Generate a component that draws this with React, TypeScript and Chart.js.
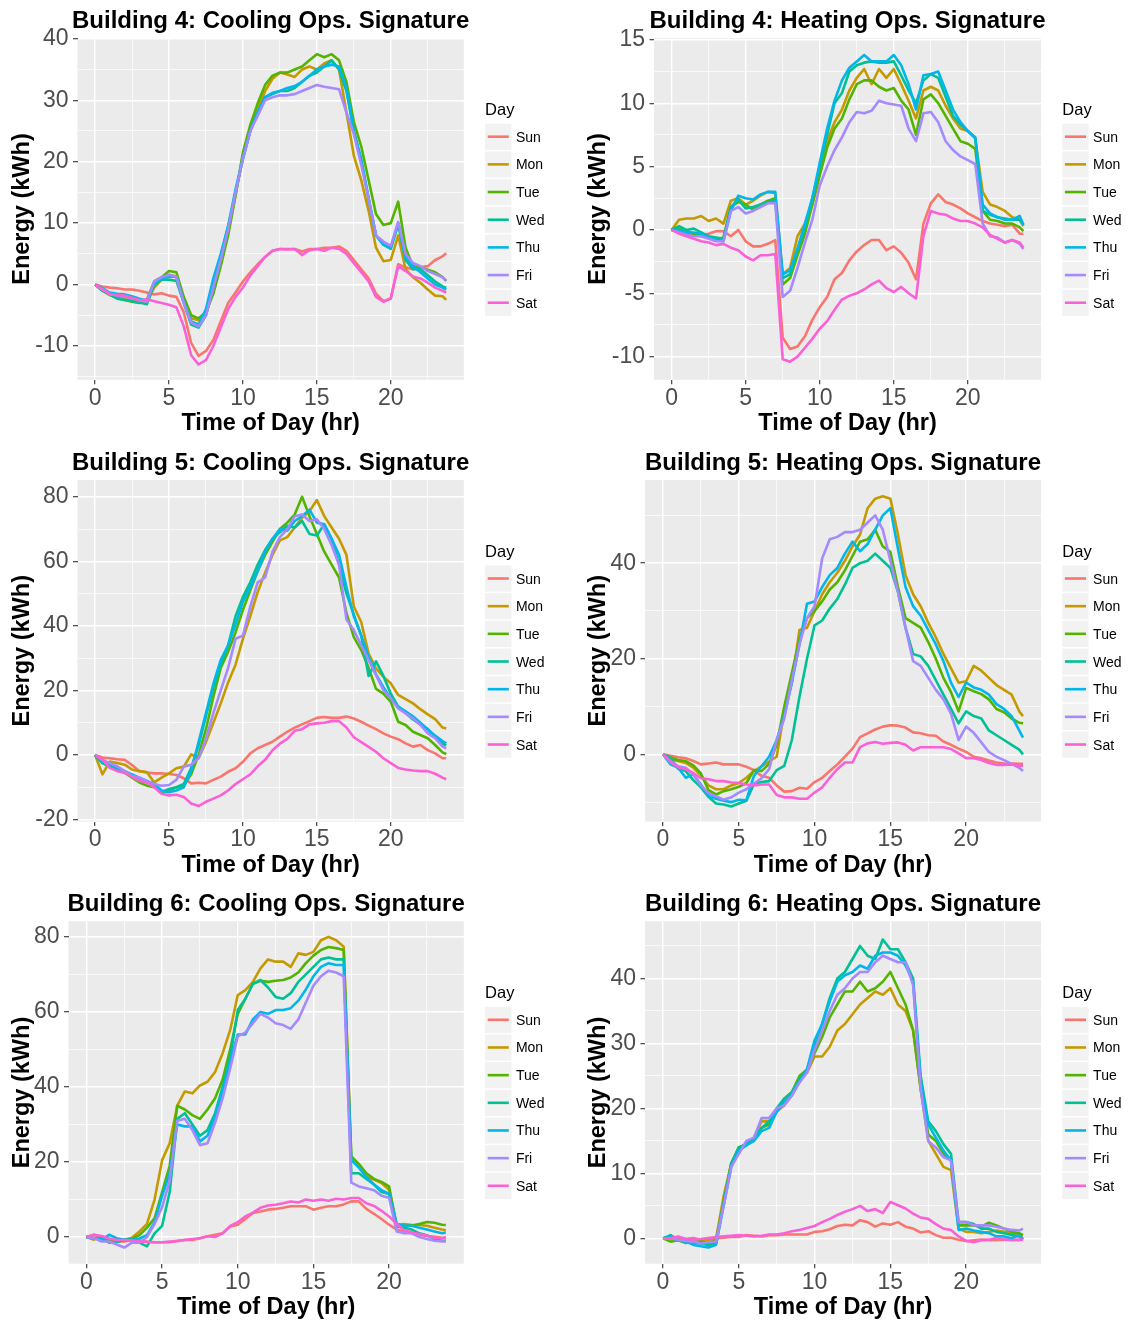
import React, { useEffect, useRef } from "react";
import { Chart, registerables } from "chart.js";

Chart.register(...registerables);

const FONT = "'Liberation Sans', Arial, Helvetica, sans-serif";

// ---------------- data ----------------
const TIME_HR = [0, 0.5, 1, 1.5, 2, 2.5, 3, 3.5, 4, 4.5, 5, 5.5, 6, 6.5, 7, 7.5, 8, 8.5, 9, 9.5, 10, 10.5, 11, 11.5, 12, 12.5, 13, 13.5, 14, 14.5, 15, 15.5, 16, 16.5, 17, 17.5, 18, 18.5, 19, 19.5, 20, 20.5, 21, 21.5, 22, 22.5, 23, 23.5, 23.75];
const DAYS = ["Sun", "Mon", "Tue", "Wed", "Thu", "Fri", "Sat"];
const DAY_COLORS = ["#F8766D", "#C49A00", "#53B400", "#00C094", "#00B6EB", "#A58AFF", "#FB61D7"];
const X_MAJOR = [0, 5, 10, 15, 20];
const X_MINOR = [2.5, 7.5, 12.5, 17.5, 22.5];

// Building 4: Cooling
const B4C_SUN = [0, -0.3, -0.5, -0.6, -0.8, -0.8, -1.0, -1.3, -1.6, -1.4, -1.8, -2.0, -4.5, -9.5, -11.6, -10.8, -9.0, -6.0, -3.0, -1.3, 0.5, 2.0, 3.3, 4.5, 5.5, 5.8, 5.8, 5.8, 5.4, 5.8, 5.8, 6.0, 6.0, 6.2, 5.5, 4.0, 2.5, 1.0, -1.5, -2.7, -2.3, 3.3, 2.8, 2.5, 2.8, 3.0, 4.0, 4.6, 5.1];
const B4C_MON = [0, -0.9, -1.5, -1.9, -2.2, -2.6, -2.8, -2.8, -0.5, 0.8, 1.6, 1.3, -2.5, -5.5, -5.8, -4.5, -1.0, 3.5, 8.5, 14.5, 21.0, 25.5, 28.5, 31.5, 33.5, 34.5, 34.2, 33.8, 35.0, 35.5, 35.0, 36.0, 36.5, 35.0, 28.0, 21.0, 17.0, 12.0, 6.0, 3.8, 4.0, 8.0, 2.5, 1.2, 0.3, -0.8, -1.8, -1.9, -2.5];
const B4C_TUE = [0, -1.0, -1.7, -2.2, -2.5, -2.8, -3.0, -2.5, 0.5, 1.2, 2.2, 2.0, -2.0, -5.0, -5.5, -4.5, -1.5, 3.0, 8.0, 14.5, 21.5, 26.0, 29.5, 32.5, 34.0, 34.5, 34.5, 35.0, 35.5, 36.5, 37.5, 37.0, 37.5, 36.5, 33.0, 26.5, 22.5, 17.0, 11.5, 9.7, 10.0, 13.5, 6.0, 3.0, 2.8, 2.4, 2.0, 1.2, 0.6];
const B4C_WED = [0, -1.0, -1.6, -2.3, -2.5, -2.7, -2.9, -3.2, 0.0, 0.8, 0.8, 0.6, -3.0, -6.5, -7.0, -5.0, -0.5, 4.5, 9.5, 15.0, 20.5, 25.0, 28.0, 30.5, 31.0, 31.5, 31.5, 32.0, 33.0, 34.0, 34.5, 35.5, 36.5, 35.0, 31.5, 25.0, 20.0, 14.0, 8.0, 6.5, 5.8, 9.8, 4.0, 2.5, 2.5, 1.5, 0.5, -0.3, -0.5];
const B4C_THU = [0, -0.6, -1.3, -1.5, -1.6, -1.9, -2.3, -2.6, 0.2, 1.0, 1.3, 1.3, -2.8, -6.0, -6.5, -4.0, 1.0, 5.0, 9.5, 15.5, 20.5, 25.0, 28.0, 30.5, 31.2, 31.5, 32.0, 32.3, 33.0, 34.0, 35.0, 35.5, 35.8, 35.5, 32.0, 25.0, 20.5, 14.0, 8.0, 6.5, 6.0, 10.0, 4.5, 3.0, 2.0, 1.0, 0.0, -0.5, -0.8];
const B4C_FRI = [0, -0.8, -1.5, -1.8, -2.0, -2.2, -2.6, -2.8, 0.5, 1.2, 1.6, 1.3, -3.0, -6.2, -6.8, -5.0, -0.5, 4.0, 9.0, 15.0, 20.5, 25.0, 27.5, 30.0, 30.5, 30.8, 30.8, 31.0, 31.5, 32.0, 32.5, 32.2, 32.0, 31.8, 28.0, 24.5, 19.5, 14.0, 8.0, 7.0, 6.3, 10.2, 5.0, 3.5, 3.0, 2.2, 1.7, 1.2, 0.6];
const B4C_SAT = [0, -0.8, -1.6, -1.7, -1.8, -2.2, -2.6, -2.4, -2.7, -3.0, -3.3, -3.7, -6.8, -11.5, -13.0, -12.3, -10.0, -7.0, -4.0, -2.0, -0.5, 1.5, 3.0, 4.5, 5.5, 5.8, 5.7, 5.8, 4.8, 5.6, 5.8, 5.5, 6.0, 5.8, 5.0, 3.5, 2.0, 0.5, -2.0, -2.8, -2.2, 3.0, 2.2, 1.3, 1.0, 0.3, -0.5, -1.0, -1.3];

// Building 4: Heating
const B4H_SUN = [0, -0.1, -0.3, -0.3, -0.4, -0.3, -0.1, -0.1, -0.5, 0.0, -0.9, -1.3, -1.3, -1.1, -0.8, -8.5, -9.4, -9.2, -8.4, -7.1, -6.1, -5.3, -3.9, -3.4, -2.4, -1.7, -1.2, -0.8, -0.8, -1.6, -1.3, -1.8, -2.6, -3.9, 0.5, 2.1, 2.8, 2.2, 2.0, 1.7, 1.3, 1.0, 0.7, 0.5, 0.4, 0.3, 0.4, -0.3, -0.3];
const B4H_MON = [0, 0.8, 0.9, 0.9, 1.1, 0.7, 0.9, 0.5, 2.3, 2.5, 2.0, 2.3, 2.7, 3.0, 2.9, -3.5, -3.0, -0.5, 0.5, 2.0, 4.5, 7.0, 8.5, 9.5, 11.0, 12.0, 12.7, 11.5, 12.7, 12.0, 12.7, 11.5, 10.2, 8.8, 11.0, 11.3, 11.0, 9.8, 8.8, 8.0, 7.8, 7.2, 3.0, 2.0, 1.8, 1.5, 1.0, 0.8, 0.3];
const B4H_TUE = [0, 0.1, -0.1, -0.3, -0.5, -0.6, -0.8, -0.6, 1.8, 2.2, 2.0, 1.6, 2.0, 2.3, 2.5, -4.3, -3.8, -2.0, -0.3, 2.0, 4.3, 6.5, 8.0, 8.8, 10.3, 11.5, 11.8, 11.8, 11.3, 11.0, 11.2, 10.2, 9.5, 7.5, 10.3, 10.7, 10.0, 9.0, 8.0, 7.0, 6.8, 6.4, 1.5, 0.8, 0.7, 0.5, 0.5, 0.2, -0.1];
const B4H_WED = [0, 0.3, 0.0, 0.1, -0.2, -0.5, -0.6, -0.7, 1.8, 2.4, 1.7, 1.8, 2.0, 2.2, 2.3, -3.8, -3.5, -1.5, 0.2, 2.5, 5.0, 7.5, 10.0, 10.8, 12.5, 13.0, 13.2, 13.3, 13.2, 13.2, 13.3, 12.2, 11.0, 10.0, 11.8, 12.3, 12.0, 10.5, 9.0, 8.3, 7.8, 7.3, 1.5, 1.2, 1.0, 0.9, 0.8, 0.8, 0.4];
const B4H_THU = [0, 0.0, -0.2, -0.2, -0.3, -0.6, -0.8, -0.9, 1.5, 2.7, 2.5, 2.4, 2.8, 3.0, 3.0, -3.5, -3.2, -1.5, 0.5, 2.5, 5.3, 8.0, 10.2, 11.8, 12.8, 13.3, 13.8, 13.3, 13.3, 13.3, 13.8, 13.0, 11.5, 9.5, 12.2, 12.3, 12.5, 11.0, 9.5, 8.5, 7.8, 7.3, 2.0, 1.3, 1.0, 0.8, 0.8, 1.1, 0.4];
const B4H_FRI = [0, -0.2, -0.4, -0.5, -0.5, -0.7, -0.9, -0.9, 1.5, 1.8, 1.3, 1.5, 1.8, 2.1, 2.1, -5.3, -4.8, -3.0, -1.0, 0.8, 3.5, 5.0, 6.3, 7.3, 8.5, 9.3, 9.2, 9.4, 10.2, 10.0, 9.9, 9.8, 8.0, 7.0, 9.2, 9.3, 8.5, 7.0, 6.3, 5.8, 5.5, 5.2, 0.5, -0.5, -0.6, -1.0, -0.8, -1.1, -1.5];
const B4H_SAT = [0, -0.3, -0.5, -0.7, -0.9, -1.0, -1.2, -1.1, -1.4, -1.6, -2.1, -2.4, -2.0, -2.0, -1.9, -10.2, -10.4, -10.0, -9.3, -8.6, -7.8, -7.2, -6.3, -5.5, -5.2, -5.0, -4.7, -4.3, -4.0, -4.6, -4.9, -4.5, -5.0, -5.4, -0.5, 1.5, 1.3, 1.2, 0.9, 0.7, 0.7, 0.5, 0.2, -0.4, -0.7, -1.0, -0.8, -1.0, -1.4];

// Building 5: Cooling
const B5C_SUN = [0, -0.8, -1.0, -1.3, -1.5, -3.1, -5.0, -5.4, -5.7, -5.7, -5.9, -6.2, -7.2, -8.8, -8.6, -8.8, -7.7, -6.7, -5.2, -4.1, -2.1, 0.5, 2.1, 3.1, 4.1, 5.7, 7.2, 8.5, 9.5, 10.5, 11.5, 11.8, 11.5, 11.5, 11.9, 11.3, 10.3, 9.1, 8.0, 6.7, 5.7, 4.9, 3.6, 2.6, 3.1, 1.5, 0.5, -1.0, -1.0];
const B5C_MON = [0, -6.0, -2.0, -2.5, -3.0, -4.5, -5.0, -5.3, -8.5, -7.0, -5.7, -4.1, -3.6, 0.2, -1.0, 4.0, 10.0, 16.0, 22.5, 28.0, 36.0, 43.0, 50.5, 56.5, 62.0, 66.5, 67.5, 70.5, 73.5, 75.5, 79.0, 74.0, 70.5, 67.0, 62.0, 46.0, 41.2, 31.4, 26.8, 24.2, 22.2, 18.6, 17.3, 16.0, 14.2, 12.6, 11.1, 8.5, 8.2];
const B5C_TUE = [0, -2.5, -3.5, -4.5, -5.5, -7.0, -8.5, -9.5, -10.0, -11.5, -11.0, -10.0, -9.5, -6.0, 0.0, 8.0, 18.0, 27.0, 32.0, 38.0, 45.0, 51.0, 57.0, 62.0, 66.0, 70.0, 72.0, 74.5, 80.0, 74.0, 68.5, 63.0, 59.0, 55.0, 44.0, 36.5, 32.5, 27.0, 20.5, 19.0, 16.5, 10.3, 9.3, 7.2, 6.2, 5.2, 3.1, 0.8, 0.3];
const B5C_WED = [0, -2.5, -3.5, -4.5, -5.5, -6.5, -7.5, -8.5, -9.5, -11.5, -10.5, -10.0, -9.0, -4.0, 3.0, 12.0, 21.0, 28.0, 34.0, 43.0, 49.0, 53.5, 59.0, 63.5, 67.0, 69.0, 71.0, 70.5, 72.5, 68.5, 68.0, 71.5, 67.0, 59.0, 50.0, 43.5, 37.0, 24.5, 29.0, 24.5, 19.0, 15.0, 13.0, 11.0, 9.5, 8.0, 5.5, 3.5, 3.0];
const B5C_THU = [0, -2.0, -3.0, -4.0, -5.0, -6.0, -7.0, -8.0, -9.0, -11.0, -11.5, -11.0, -10.0, -5.0, 4.0, 13.0, 22.0, 29.5, 34.0, 40.5, 47.5, 52.0, 57.0, 63.0, 67.0, 70.0, 69.5, 72.5, 74.0, 76.0, 72.0, 71.5, 67.0, 62.0, 52.0, 43.0, 37.0, 30.5, 25.0, 21.0, 17.5, 15.0, 13.5, 12.0, 10.0, 8.0, 6.0, 4.3, 3.6];
const B5C_FRI = [0, -1.5, -2.5, -3.5, -5.0, -6.5, -7.0, -8.0, -9.0, -9.5, -9.3, -7.7, -3.6, -3.0, -1.0, 5.0, 13.0, 20.0, 27.0, 36.0, 37.0, 46.0, 53.5, 55.0, 63.0, 67.5, 70.0, 74.0, 74.5, 72.5, 73.0, 70.0, 65.0, 59.0, 42.0, 38.7, 34.0, 29.4, 24.7, 20.1, 17.5, 14.4, 12.9, 11.3, 9.3, 6.7, 5.2, 2.6, 2.1];
const B5C_SAT = [0, -1.5, -4.0, -5.0, -5.5, -6.7, -8.0, -8.5, -10.0, -12.0, -12.5, -12.3, -13.0, -15.0, -15.8, -14.5, -13.5, -12.5, -11.0, -9.0, -7.5, -6.0, -3.5, -1.5, 1.5, 3.5, 5.0, 7.5, 8.0, 9.5, 9.8, 10.0, 10.5, 10.5, 8.5, 5.5, 4.0, 2.5, 1.0, -1.0, -2.5, -4.0, -4.5, -4.8, -5.0, -5.0, -5.8, -7.0, -7.5];

// Building 5: Heating
const B5H_SUN = [0, -0.3, -0.6, -0.8, -1.4, -2.1, -1.9, -1.7, -2.1, -2.1, -2.1, -2.6, -3.3, -4.5, -4.9, -6.5, -7.8, -7.7, -7.0, -7.2, -5.8, -4.9, -3.5, -2.1, -0.5, 1.2, 3.6, 4.4, 5.2, 5.8, 6.1, 6.0, 5.6, 4.6, 4.4, 4.0, 3.9, 2.7, 2.0, 1.2, 0.5, -0.5, -0.8, -1.3, -1.7, -1.9, -1.9, -2.0, -2.0];
const B5H_MON = [0, -1.0, -1.4, -1.8, -2.8, -4.4, -6.5, -7.3, -7.3, -6.5, -6.0, -4.9, -3.5, -2.5, -1.5, -0.5, 9.0, 15.0, 26.0, 26.5, 30.0, 33.5, 36.0, 38.0, 40.5, 43.5, 46.0, 51.5, 53.5, 54.0, 53.5, 46.0, 37.5, 33.5, 31.0, 27.5, 24.5, 21.0, 18.0, 15.0, 15.3, 18.5, 17.5, 16.0, 14.5, 13.5, 12.5, 9.0, 8.0];
const B5H_TUE = [0, -0.7, -1.2, -1.4, -2.3, -4.0, -7.5, -8.4, -7.7, -7.3, -6.8, -6.0, -3.3, -3.5, -2.0, 2.0, 10.0, 17.0, 24.0, 28.5, 30.0, 32.0, 34.5, 36.0, 38.5, 41.5, 44.5, 45.0, 47.0, 43.5, 42.4, 35.0, 28.5, 27.5, 26.5, 23.5, 20.0, 16.0, 13.0, 9.0, 13.9, 13.2, 12.6, 11.5, 9.5, 8.8, 7.5, 6.6, 6.5];
const B5H_WED = [0, -0.7, -3.0, -3.5, -5.4, -6.9, -8.9, -10.3, -10.5, -10.9, -10.3, -9.7, -6.2, -5.8, -5.6, -3.3, -2.4, 3.0, 12.0, 20.0, 27.0, 28.0, 30.5, 32.5, 35.5, 39.0, 40.0, 40.5, 42.0, 40.5, 39.0, 34.0, 26.5, 21.0, 20.5, 18.5, 15.5, 12.5, 9.5, 6.5, 9.0, 8.0, 7.5, 5.0, 4.0, 3.0, 2.0, 1.0, 0.0];
const B5H_THU = [0, -2.1, -2.8, -4.9, -4.2, -6.3, -8.7, -9.3, -9.7, -10.0, -9.5, -9.6, -4.5, -2.5, -0.5, 3.0, 8.0, 15.0, 23.0, 31.5, 32.0, 35.0, 37.5, 39.0, 42.0, 44.5, 42.5, 44.0, 47.0, 50.0, 51.5, 43.0, 35.0, 31.0, 29.0, 26.0, 23.0, 19.5, 15.0, 12.0, 15.0, 14.0, 13.5, 12.5, 10.5, 9.5, 8.0, 5.0, 3.5];
const B5H_FRI = [0, -1.4, -2.5, -2.8, -4.2, -6.5, -8.1, -8.8, -9.5, -9.0, -8.0, -7.3, -6.1, -5.0, -3.1, 3.0, 7.5, 15.5, 23.0, 28.5, 31.0, 41.0, 45.0, 45.5, 46.5, 46.5, 47.0, 48.5, 50.0, 47.0, 40.5, 34.0, 26.5, 19.5, 18.5, 16.0, 13.5, 11.5, 8.5, 3.0, 5.8, 4.5, 2.5, 0.5, -0.5, -1.2, -2.0, -2.8, -3.5];
const B5H_SAT = [0, -1.7, -2.7, -3.1, -3.9, -5.0, -5.2, -5.6, -5.6, -5.9, -6.0, -6.3, -6.5, -6.3, -6.3, -8.5, -9.0, -9.0, -9.3, -9.3, -8.0, -6.9, -4.9, -3.1, -1.7, -1.7, 1.5, 2.3, 2.6, 2.2, 2.4, 2.5, 2.0, 0.8, 1.5, 1.5, 1.5, 1.5, 1.1, 0.2, -0.8, -0.8, -1.2, -1.8, -2.2, -2.2, -2.1, -2.4, -2.4];

// Building 6: Cooling
const B6C_SUN = [0, 0.6, -0.3, -0.7, -1.2, -1.2, -0.8, -0.9, -1.2, -1.4, -1.4, -1.4, -1.0, -0.8, -0.8, -0.3, 0.2, 0.6, 1.0, 2.8, 3.3, 4.8, 6.4, 6.8, 7.3, 7.5, 7.8, 8.2, 8.2, 8.2, 7.3, 7.8, 8.2, 8.2, 8.7, 9.5, 9.5, 7.5, 6.2, 4.8, 3.3, 2.0, 1.5, 1.1, 0.6, 0.3, 0.1, -0.2, -0.3];
const B6C_MON = [0, -0.7, 0.2, -0.5, -1.4, -0.7, -0.2, 1.5, 3.5, 10.0, 20.5, 25.0, 35.0, 38.8, 38.3, 40.4, 41.4, 44.0, 49.0, 55.2, 64.5, 65.8, 68.0, 71.6, 74.0, 73.4, 73.4, 72.0, 75.6, 75.2, 76.0, 79.1, 80.0, 79.1, 77.4, 21.5, 18.8, 16.1, 15.3, 14.4, 12.6, 3.3, 3.5, 3.2, 3.2, 3.0, 2.5, 2.0, 1.8];
const B6C_TUE = [0, -0.3, -0.7, -1.0, -1.2, -0.8, -0.5, 0.5, 2.5, 5.0, 12.0, 19.0, 35.0, 34.0, 32.5, 31.5, 34.0, 37.0, 42.0, 50.0, 59.5, 63.5, 67.5, 68.3, 68.0, 68.3, 68.5, 69.2, 70.5, 73.0, 75.0, 76.5, 77.3, 77.0, 76.5, 21.5, 19.5, 17.0, 15.5, 14.7, 13.5, 3.0, 3.0, 3.0, 3.5, 4.0, 3.8, 3.3, 3.2];
const B6C_WED = [0, -0.2, -0.3, -1.5, -1.3, -0.8, -0.7, -1.5, -2.5, 1.0, 3.0, 12.0, 31.5, 33.0, 30.0, 27.0, 28.5, 33.0, 40.0, 48.0, 60.5, 63.5, 67.5, 68.5, 66.5, 64.0, 63.5, 65.0, 68.0, 70.0, 72.0, 74.0, 74.5, 74.0, 74.0, 17.0, 17.0, 15.5, 14.0, 12.0, 11.5, 2.8, 2.5, 2.0, 1.0, 0.5, -0.5, -1.0, -1.0];
const B6C_THU = [0, -0.3, -0.7, 0.6, -0.3, -0.7, -0.7, -0.4, 0.5, 4.0, 11.0, 17.0, 30.0, 29.5, 29.5, 25.5, 27.0, 32.0, 39.0, 47.0, 54.0, 54.0, 58.0, 60.0, 59.5, 60.5, 60.5, 61.0, 63.0, 66.0, 69.5, 72.0, 73.0, 72.5, 72.5, 20.5, 18.5, 16.0, 14.0, 12.5, 11.5, 3.5, 3.0, 3.0, 2.5, 2.0, 1.5, 1.0, 1.2];
const B6C_FRI = [0, -0.3, -1.2, -1.2, -2.0, -2.8, -1.5, -1.5, 0.0, 3.5, 8.0, 15.0, 31.0, 31.5, 28.5, 24.5, 25.0, 30.5, 37.0, 45.0, 53.5, 54.5, 57.0, 59.5, 58.5, 57.0, 56.5, 55.5, 58.0, 62.5, 67.0, 69.5, 71.0, 70.5, 69.5, 14.5, 13.5, 13.0, 12.5, 11.0, 10.5, 1.5, 1.0, 1.0, 0.0, -0.5, -1.0, -1.2, -1.2];
const B6C_SAT = [0, 0.6, 0.3, -0.4, -0.8, -0.8, -0.9, -1.2, -1.3, -1.4, -1.4, -1.2, -1.1, -0.8, -0.5, -0.3, 0.2, 0.0, 1.0, 3.0, 4.0, 5.5, 6.5, 7.8, 8.4, 8.6, 9.0, 9.5, 9.2, 10.0, 9.7, 10.0, 9.7, 10.2, 10.0, 10.4, 10.4, 9.0, 8.3, 7.0, 5.5, 3.5, 1.8, 1.2, 0.8, 0.4, -0.2, -0.3, 0.0];

// Building 6: Heating
const B6H_SUN = [0, 0.3, 0.1, -0.1, 0.05, -0.2, -0.2, 0.0, 0.1, 0.2, 0.2, 0.5, 0.4, 0.3, 0.5, 0.5, 0.6, 0.6, 0.6, 0.6, 1.0, 1.1, 1.4, 1.9, 2.1, 2.0, 2.8, 2.5, 1.8, 2.3, 2.1, 2.5, 1.8, 1.5, 0.9, 1.1, 0.5, 0.1, 0.1, -0.2, -0.4, -0.3, -0.2, -0.3, -0.3, -0.2, -0.2, -0.3, -0.1];
const B6H_MON = [0, -0.1, -0.2, -0.3, -0.2, -0.3, -0.2, 0.0, 6.5, 11.5, 13.5, 14.5, 15.5, 18.0, 18.0, 19.5, 20.5, 22.0, 24.5, 25.5, 28.0, 28.0, 29.5, 32.0, 33.0, 34.5, 36.0, 37.0, 38.0, 37.5, 38.5, 36.0, 35.0, 32.0, 23.0, 15.0, 13.0, 11.0, 10.5, 1.5, 1.0, 1.0, 0.8, 1.0, 1.2, 1.0, 0.8, 0.5, 0.5];
const B6H_TUE = [0, -0.5, -0.3, -0.7, -0.3, -0.5, -0.7, -0.3, 5.5, 11.5, 14.0, 14.5, 15.0, 17.0, 17.5, 19.5, 21.5, 22.5, 25.0, 26.0, 28.5, 31.0, 34.0, 36.0, 38.0, 38.0, 39.5, 38.0, 38.5, 39.5, 41.0, 38.5, 36.0, 32.0, 23.0, 16.0, 15.0, 13.0, 12.0, 2.0, 2.0, 2.0, 1.8, 2.4, 2.0, 1.5, 1.0, 0.8, 0.5];
const B6H_WED = [0, 0.5, -0.3, -0.5, -0.7, -0.8, -1.0, -0.8, 5.5, 11.5, 14.0, 14.5, 15.5, 17.0, 18.0, 20.0, 21.5, 22.5, 24.5, 26.0, 29.5, 33.0, 37.0, 40.0, 41.0, 43.0, 45.0, 43.5, 43.0, 46.0, 44.5, 44.5, 42.5, 40.0, 25.0, 18.0, 16.5, 14.5, 13.0, 2.5, 2.5, 2.2, 1.5, 1.5, 1.0, 0.8, 0.5, 0.3, 0.0];
const B6H_THU = [0, 0.2, -0.3, -0.5, -1.0, -1.2, -1.4, -1.0, 5.0, 11.0, 13.5, 14.3, 15.0, 16.5, 17.0, 19.5, 21.0, 22.0, 24.0, 26.0, 30.5, 33.0, 36.5, 39.5, 40.5, 41.0, 42.0, 41.5, 43.5, 44.0, 44.0, 43.5, 42.0, 39.5, 24.0, 17.5, 15.5, 13.5, 12.0, 1.3, 1.5, 1.2, 1.0, 0.8, 0.3, 0.3, 0.0, 0.5, -0.2];
const B6H_FRI = [0, 0.0, -0.2, -0.4, -0.5, -0.8, -0.6, -0.5, 5.0, 11.0, 13.0, 15.0, 15.5, 18.5, 18.5, 20.0, 20.5, 22.0, 24.0, 25.5, 29.0, 32.0, 35.0, 37.5, 38.5, 40.0, 41.0, 41.0, 42.5, 43.5, 43.0, 42.5, 42.5, 39.0, 23.0, 15.0, 14.0, 12.5, 12.0, 2.5, 2.5, 2.0, 2.0, 2.0, 1.8, 1.5, 1.3, 1.2, 1.5];
const B6H_SAT = [0, 0.05, 0.3, -0.1, -0.2, -0.1, 0.05, 0.2, 0.3, 0.4, 0.5, 0.4, 0.3, 0.4, 0.6, 0.6, 0.8, 1.1, 1.3, 1.6, 1.9, 2.5, 3.0, 3.6, 4.1, 4.5, 5.0, 4.2, 4.5, 3.9, 5.6, 5.1, 4.6, 3.8, 3.2, 3.0, 2.2, 1.5, 1.3, 0.3, -0.4, -0.6, -0.3, -0.2, 0.05, -0.2, -0.3, -0.2, -0.2];

// y-axis breaks per panel
const B4C_Y_MAJOR = [-10, 0, 10, 20, 30, 40];
const B4C_Y_MINOR = [-15, -5, 5, 15, 25, 35];
const B4H_Y_MAJOR = [-10, -5, 0, 5, 10, 15];
const B4H_Y_MINOR = [-7.5, -2.5, 2.5, 7.5, 12.5];
const B5C_Y_MAJOR = [-20, 0, 20, 40, 60, 80];
const B5C_Y_MINOR = [-10, 10, 30, 50, 70];
const B5H_Y_MAJOR = [0, 20, 40];
const B5H_Y_MINOR = [-10, 10, 30, 50];
const B6C_Y_MAJOR = [0, 20, 40, 60, 80];
const B6C_Y_MINOR = [10, 30, 50, 70];
const B6H_Y_MAJOR = [0, 10, 20, 30, 40];
const B6H_Y_MINOR = [5, 15, 25, 35, 45];

// ---------------- layout ----------------
type Panel = {
  title: string;
  series: number[][];
  yMin: number;
  yMax: number;
  yMajor: number[];
  yMinor: number[];
  cell: { x: number; y: number; w: number; h: number };
  plot: { l: number; t: number; r: number; b: number };
  yTitleX: number;
};

const PANELS: Panel[] = [
  {
    title: "Building 4: Cooling Ops. Signature",
    series: [B4C_SUN, B4C_MON, B4C_TUE, B4C_WED, B4C_THU, B4C_FRI, B4C_SAT],
    yMin: -15.5, yMax: 40.1, yMajor: B4C_Y_MAJOR, yMinor: B4C_Y_MINOR,
    cell: { x: 0, y: 0, w: 565, h: 441 },
    plot: { l: 77.5, t: 38.2, r: 463.8, b: 379.8 },
    yTitleX: 29,
  },
  {
    title: "Building 4: Heating Ops. Signature",
    series: [B4H_SUN, B4H_MON, B4H_TUE, B4H_WED, B4H_THU, B4H_FRI, B4H_SAT],
    yMin: -11.83, yMax: 15.13, yMajor: B4H_Y_MAJOR, yMinor: B4H_Y_MINOR,
    cell: { x: 565, y: 0, w: 564, h: 441 },
    plot: { l: 654, t: 38.2, r: 1041, b: 379.8 },
    yTitleX: 605.4,
  },
  {
    title: "Building 5: Cooling Ops. Signature",
    series: [B5C_SUN, B5C_MON, B5C_TUE, B5C_WED, B5C_THU, B5C_FRI, B5C_SAT],
    yMin: -20.6, yMax: 85.2, yMajor: B5C_Y_MAJOR, yMinor: B5C_Y_MINOR,
    cell: { x: 0, y: 441, w: 565, h: 441 },
    plot: { l: 77.5, t: 480, r: 463.8, b: 821.5 },
    yTitleX: 29,
  },
  {
    title: "Building 5: Heating Ops. Signature",
    series: [B5H_SUN, B5H_MON, B5H_TUE, B5H_WED, B5H_THU, B5H_FRI, B5H_SAT],
    yMin: -14.05, yMax: 57.4, yMajor: B5H_Y_MAJOR, yMinor: B5H_Y_MINOR,
    cell: { x: 565, y: 441, w: 564, h: 441 },
    plot: { l: 645, t: 480, r: 1041, b: 821.5 },
    yTitleX: 605.4,
  },
  {
    title: "Building 6: Cooling Ops. Signature",
    series: [B6C_SUN, B6C_MON, B6C_TUE, B6C_WED, B6C_THU, B6C_FRI, B6C_SAT],
    yMin: -7.1, yMax: 84.15, yMajor: B6C_Y_MAJOR, yMinor: B6C_Y_MINOR,
    cell: { x: 0, y: 882, w: 565, h: 440 },
    plot: { l: 68.5, t: 921.3, r: 463.8, b: 1263.7 },
    yTitleX: 29,
  },
  {
    title: "Building 6: Heating Ops. Signature",
    series: [B6H_SUN, B6H_MON, B6H_TUE, B6H_WED, B6H_THU, B6H_FRI, B6H_SAT],
    yMin: -3.9, yMax: 48.8, yMajor: B6H_Y_MAJOR, yMinor: B6H_Y_MINOR,
    cell: { x: 565, y: 882, w: 564, h: 440 },
    plot: { l: 645, t: 921.3, r: 1041, b: 1263.7 },
    yTitleX: 605.4,
  },
];

// ---------------- ggplot-like decorations ----------------
const ggPlugin = {
  id: "gg",
  beforeDraw(chart: any) {
    const a = chart.chartArea;
    const c = chart.ctx;
    c.save();
    c.fillStyle = "#EBEBEB";
    c.fillRect(a.left, a.top, a.right - a.left, a.bottom - a.top);
    c.restore();
  },
  afterDraw(chart: any, _args: any, opts: any) {
    const a = chart.chartArea;
    const c = chart.ctx;
    c.save();
    c.fillStyle = "#000000";
    c.textBaseline = "alphabetic";
    c.textAlign = "center";
    const cx = (a.left + a.right) / 2;
    c.font = `bold 24px ${FONT}`;
    c.fillText(opts.title, cx, a.top - 10);
    c.font = `bold 23.5px ${FONT}`;
    c.fillText("Time of Day (hr)", cx, a.bottom + 50.2);
    c.save();
    c.translate(opts.yTitleX, (a.top + a.bottom) / 2);
    c.rotate(-Math.PI / 2);
    c.fillText("Energy (kWh)", 0, 0);
    c.restore();

    // legend
    const lx = a.right + 21.3;
    c.textAlign = "left";
    c.font = `16.5px ${FONT}`;
    c.fillText("Day", lx, a.top + 76.8);
    c.font = `14px ${FONT}`;
    DAYS.forEach((d, i) => {
      const cy = a.top + 98.5 + i * 27.67;
      c.fillStyle = "#F2F2F2";
      c.fillRect(lx, cy - 13, 26.3, 26.2);
      c.strokeStyle = DAY_COLORS[i];
      c.lineWidth = 2.6;
      c.lineCap = "butt";
      c.beginPath();
      c.moveTo(lx + 2.6, cy);
      c.lineTo(lx + 23.7, cy);
      c.stroke();
      c.fillStyle = "#000000";
      c.fillText(d, lx + 30.8, cy + 5);
    });
    c.restore();
  },
};

function makeConfig(p: Panel): any {
  const L = p.plot.l - p.cell.x;
  const T = p.plot.t - p.cell.y;
  const R = p.plot.r - p.cell.x;
  const B = p.plot.b - p.cell.y;
  const xTicks = [...X_MAJOR, ...X_MINOR].sort((a, b) => a - b);
  const yTicks = [...p.yMajor, ...p.yMinor].filter((v) => v >= p.yMin && v <= p.yMax).sort((a, b) => a - b);
  const tickFont = { family: FONT, size: 23, lineHeight: 1.0 };
  return {
    type: "line",
    data: {
      datasets: DAYS.map((d, i) => ({
        label: d,
        data: TIME_HR.map((t, k) => ({ x: t, y: p.series[i][k] })),
        borderColor: DAY_COLORS[i],
        backgroundColor: DAY_COLORS[i],
        borderWidth: 2.6,
        pointRadius: 0,
        pointHoverRadius: 0,
        tension: 0,
        fill: false,
        borderJoinStyle: "round",
        borderCapStyle: "butt",
        order: DAYS.length - 1 - i,
      })),
    },
    options: {
      responsive: false,
      animation: false,
      devicePixelRatio: 1,
      events: [],
      layout: { padding: { left: 0, top: T, right: p.cell.w - R, bottom: 0 } },
      plugins: {
        legend: { display: false },
        tooltip: { enabled: false },
        title: { display: false },
        gg: { title: p.title, yTitleX: p.yTitleX - p.cell.x },
      },
      scales: {
        x: {
          type: "linear",
          min: -1.1875,
          max: 24.9375,
          afterBuildTicks: (s: any) => {
            s.ticks = xTicks.map((v) => ({ value: v }));
          },
          afterFit: (s: any) => {
            s.height = p.cell.h - B;
          },
          border: { display: false },
          grid: {
            color: "#FFFFFF",
            lineWidth: (ctx: any) => (X_MAJOR.includes(ctx.tick?.value) ? 1.4 : 0.7),
            tickColor: (ctx: any) => (X_MAJOR.includes(ctx.tick?.value) ? "#333333" : "rgba(0,0,0,0)"),
            tickLength: 4.5,
            tickWidth: 1.1,
            drawTicks: true,
          },
          ticks: {
            autoSkip: false,
            maxRotation: 0,
            minRotation: 0,
            padding: 2.5,
            color: "#4D4D4D",
            font: tickFont,
            callback: (v: number) => (X_MAJOR.includes(v) ? String(v) : ""),
          },
        },
        y: {
          type: "linear",
          min: p.yMin,
          max: p.yMax,
          afterBuildTicks: (s: any) => {
            s.ticks = yTicks.map((v) => ({ value: v }));
          },
          afterFit: (s: any) => {
            s.width = L;
          },
          border: { display: false },
          grid: {
            color: "#FFFFFF",
            lineWidth: (ctx: any) => (p.yMajor.includes(ctx.tick?.value) ? 1.4 : 0.7),
            tickColor: (ctx: any) => (p.yMajor.includes(ctx.tick?.value) ? "#333333" : "rgba(0,0,0,0)"),
            tickLength: 4.5,
            tickWidth: 1.1,
            drawTicks: true,
          },
          ticks: {
            autoSkip: false,
            padding: 4.5,
            color: "#4D4D4D",
            font: tickFont,
            callback: (v: number) => (p.yMajor.includes(v) ? String(v) : ""),
          },
        },
      },
    },
    plugins: [ggPlugin],
  };
}

function PanelChart({ p }: { p: Panel }) {
  const ref = useRef<HTMLCanvasElement | null>(null);
  useEffect(() => {
    if (!ref.current) return;
    const chart = new Chart(ref.current, makeConfig(p));
    return () => chart.destroy();
  }, [p]);
  return (
    <canvas
      ref={ref}
      width={p.cell.w}
      height={p.cell.h}
      style={{ position: "absolute", left: p.cell.x, top: p.cell.y, width: p.cell.w, height: p.cell.h }}
    />
  );
}

export default function App() {
  return (
    <div style={{ position: "absolute", left: 0, top: 0, width: 1129, height: 1322, background: "#FFFFFF", overflow: "hidden" }}>
      {PANELS.map((p) => (
        <PanelChart key={p.title} p={p} />
      ))}
    </div>
  );
}
